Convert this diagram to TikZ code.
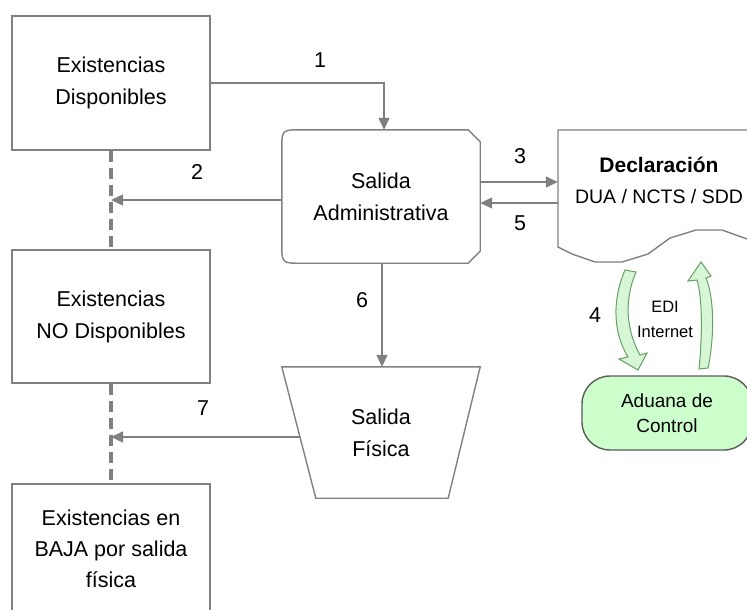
\documentclass[tikz,border=0pt]{standalone}
\usepackage{fontspec}
\setmainfont{Liberation Sans}
\usetikzlibrary{arrows.meta,calc}
\definecolor{ln}{RGB}{128,128,128}
\definecolor{gfill}{RGB}{214,246,214}
\definecolor{gline}{RGB}{100,160,100}
\definecolor{adfill}{RGB}{204,255,204}
\definecolor{adline}{RGB}{90,90,90}
\begin{document}
\begin{tikzpicture}[x=1pt,y=-1pt,
  txt/.style={font=\fontsize{21.5}{32}\selectfont, align=center, text=black},
  box/.style={txt, draw=ln, line width=1.4pt, minimum width=198pt, inner sep=0pt},
  arr/.style={draw=ln, line width=1.5pt, -{Triangle[length=12pt,width=11pt]}},
  dsh/.style={draw=ln, line width=3.2pt, dash pattern=on 11pt off 6pt},
  lbl/.style={font=\fontsize{21.5}{25}\selectfont},
  outl/.style={draw=ln, line width=1.4pt},
  garrow/.style={fill=gfill, draw=gline, line width=1pt}
  ]
\useasboundingbox (0,0) rectangle (747,610);
\begin{scope}
\clip (0,0) rectangle (747,610);

% left boxes
\node[box, minimum height=134pt] (b1) at (111,83) {Existencias\\Disponibles};
\node[box, minimum height=133pt] (b2) at (111,316.5) {Existencias\\NO Disponibles};
\node[box, minimum height=130pt, font=\fontsize{21.5}{31}\selectfont] (b3) at (111,549) {Existencias en\\BAJA por salida\\física};

\draw[dsh] (b1.south) -- (b2.north);
\draw[dsh] (b2.south) -- (b3.north);

% Salida Administrativa
\node[txt, minimum width=198pt, minimum height=133pt, inner sep=0pt] (sa) at (381,196.5) {Salida\\Administrativa};
\draw[outl] ($(sa.north west)+(14,0)$) -- ($(sa.north east)+(-12,0)$) -- ($(sa.north east)+(0,12)$)
  -- ($(sa.south east)+(0,-12)$) -- ($(sa.south east)+(-12,0)$) -- ($(sa.south west)+(14,0)$)
  .. controls ($(sa.south west)+(2,0)$) and ($(sa.south west)+(0,-2)$) .. ($(sa.south west)+(0,-14)$)
  -- ($(sa.north west)+(0,14)$)
  .. controls ($(sa.north west)+(0,2)$) and ($(sa.north west)+(2,0)$) .. ($(sa.north west)+(14,0)$) -- cycle;

% Declaracion
\node[align=center, font=\fontsize{20}{31}\selectfont, minimum width=202pt, minimum height=100pt, inner sep=0pt] (dec) at (659,180)
  {{\fontsize{21}{31}\selectfont\bfseries Declaración}\\{\fontsize{19.5}{31}\selectfont DUA / NCTS / SDD}};
\draw[outl] (770,130) -- (558,130) -- (558,247) -- (572,254) -- (595,262) -- (622,262) -- (648,254)
  -- (670,238) -- (696,230) -- (722,230) -- (747,239) -- (770,248);

% Salida Fisica
\node[txt, minimum width=198pt, minimum height=131pt, inner sep=0pt] (sf) at (381,432.5) {Salida\\Física};
\coordinate (sfbl) at ($(sf.south west)+(34,0)$);
\coordinate (sfbr) at ($(sf.south east)+(-32,0)$);
\draw[outl] (sf.north west) -- (sf.north east) -- (sfbr) -- (sfbl) -- cycle;
\coordinate (sf7) at ($(sf.north west)!0.534!(sfbl)$);

% Aduana de Control
\node[align=center, font=\fontsize{19}{25}\selectfont, draw=adline, fill=adfill, line width=1.4pt, rounded corners=28pt, minimum width=170pt, minimum height=74pt, inner sep=0pt] (ad) at (667,413) {Aduana de\\Control};

% green curved arrows
\filldraw[garrow] (625,270) -- (636,272) .. controls (624,300) and (626,330) .. (640,355)
  -- (647,353) -- (638,370) -- (619,359) -- (628,357)
  .. controls (613,333) and (612,300) .. (625,270) -- cycle;
\filldraw[garrow] (699,369) .. controls (702,340) and (703,300) .. (697,280)
  -- (688,281) -- (701,262) -- (711,276) -- (706,278)
  .. controls (715,300) and (714,340) .. (708,368) -- cycle;

% connectors
\draw[arr] (b1.east) -| ([xshift=3pt]sa.north);
\draw[arr] (sa.west |- 0,200) -- (b1.south |- 0,200);
\draw[arr] (sa.east |- 0,182) -- (dec.west |- 0,182);
\draw[arr] (dec.west |- 0,203) -- (sa.east |- 0,203);
\draw[arr] ([xshift=1pt]sa.south) -- ([xshift=1pt]sa.south |- sf.north);
\draw[arr] (sf7) -- (b2.south |- sf7);

% labels
\node[lbl] (l1) at (320,60) {1};
\node[lbl] (l2) at (197,172) {2};
\node[lbl] (l3) at (520,156) {3};
\node[lbl] (l5) at (520,223) {5};
\node[lbl] (l6) at (362,300) {6};
\node[lbl] (l7) at (203,408) {7};
\node[lbl] (l4) at (595,315) {4};
\node[font=\fontsize{16.5}{25}\selectfont, align=center] (edi) at (665,319.5) {EDI\\Internet};
\end{scope}
\end{tikzpicture}
\end{document}
